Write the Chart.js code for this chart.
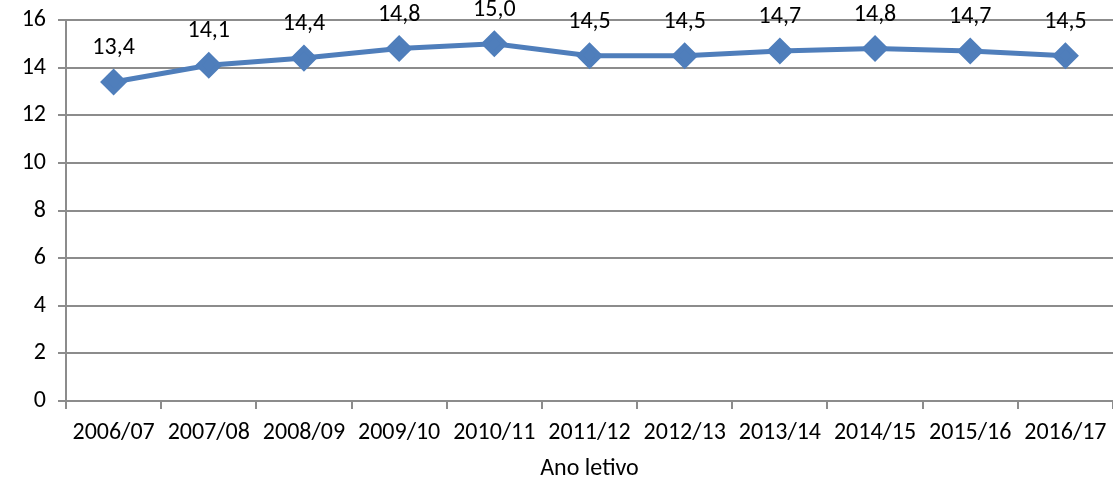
<!DOCTYPE html>
<html>
<head>
<meta charset="utf-8">
<script src="https://cdn.jsdelivr.net/npm/chart.js@4"></script>
<style>
  html, body { margin: 0; padding: 0; background: #fff; }
  #wrap { width: 1113px; height: 481px; }
</style>
</head>
<body>
<div id="wrap"><canvas id="myChart"></canvas></div>
<script>
const anos = ["2006/07", "2007/08", "2008/09", "2009/10", "2010/11", "2011/12",
  "2012/13", "2013/14", "2014/15", "2015/16", "2016/17"];
const valores = [13.4, 14.1, 14.4, 14.8, 15.0, 14.5, 14.5, 14.7, 14.8, 14.7, 14.5];
const yMin = 0;
const yMax = 16;
const yStep = 2;

const fontFamily = "'Carlito', 'Liberation Sans', Arial, sans-serif";
const gridColor = "#8c8c8c";
const lineColor = "#4F7EBB";

// draws the value above each point, with a decimal comma
const valueLabels = {
  id: "valueLabels",
  afterDatasetsDraw(chart) {
    const ctx = chart.ctx;
    const meta = chart.getDatasetMeta(0);
    ctx.save();
    ctx.font = "24px " + fontFamily;
    ctx.fillStyle = "#000";
    ctx.textAlign = "center";
    ctx.textBaseline = "middle";
    meta.data.forEach((pt, i) => {
      ctx.fillText(valores[i].toFixed(1).replace(".", ","), pt.x, pt.y - 34);
    });
    ctx.restore();
  },
};

new Chart(document.querySelector("#myChart"), {
  type: "line",
  data: {
    labels: anos,
    datasets: [
      {
        data: valores,
        borderColor: lineColor,
        backgroundColor: lineColor,
        borderWidth: 5,
        pointStyle: "rectRot",
        pointRadius: 10,
        pointHoverRadius: 10,
        tension: 0,
        clip: false,
      },
    ],
  },
  options: {
    responsive: true,
    maintainAspectRatio: false,
    animation: false,
    layout: { autoPadding: false, padding: { top: 20, right: 0, left: 0, bottom: 0 } },
    plugins: {
      legend: { display: false },
      tooltip: { enabled: false },
    },
    scales: {
      x: {
        offset: true,
        grid: {
          offset: true,
          drawOnChartArea: false,
          drawTicks: true,
          tickLength: 8,
          color: gridColor,
          lineWidth: 2,
        },
        border: { color: gridColor, width: 2 },
        ticks: {
          color: "#000",
          font: { size: 24, family: fontFamily },
          padding: 10,
          maxRotation: 0,
          autoSkip: false,
        },
        title: {
          display: true,
          text: "Ano letivo",
          color: "#000",
          font: { size: 24, family: fontFamily },
          padding: { top: 4, bottom: -2 },
        },
        afterFit(scale) {
          scale.height = 80;
          scale.paddingLeft = 0;
          scale.paddingRight = 0;
        },
      },
      y: {
        min: yMin,
        max: yMax,
        ticks: {
          stepSize: yStep,
          color: "#000",
          font: { size: 24, family: fontFamily },
          padding: 12,
        },
        grid: {
          color: gridColor,
          lineWidth: 2,
          tickLength: 8,
        },
        border: { color: gridColor, width: 2 },
        afterFit(scale) {
          scale.width = 66;
          scale.paddingTop = 0;
          scale.paddingBottom = 0;
        },
      },
    },
  },
  plugins: [valueLabels],
});
</script>
</body>
</html>
